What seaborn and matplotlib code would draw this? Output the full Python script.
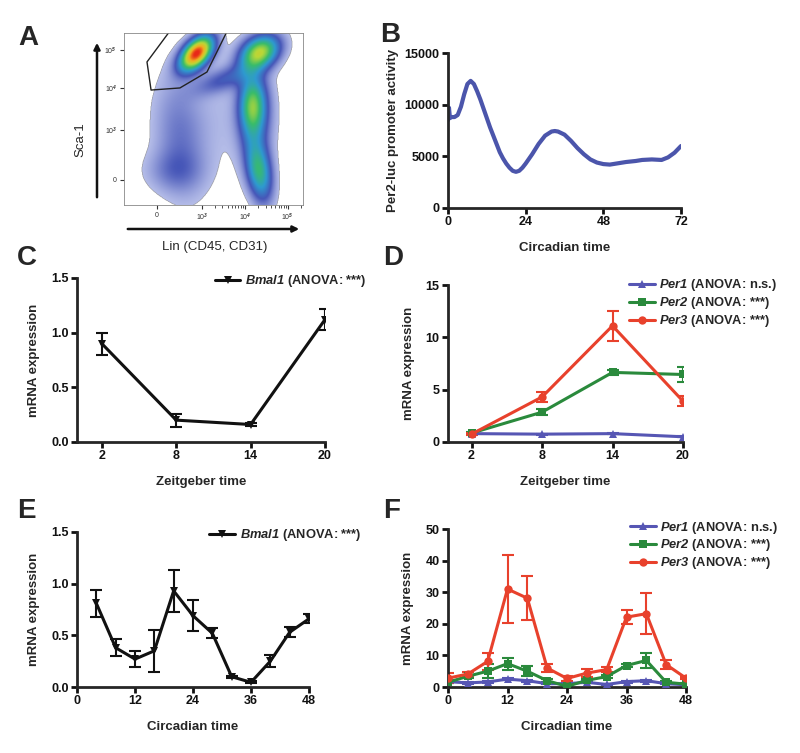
import matplotlib
matplotlib.use("Agg")
import matplotlib.pyplot as plt
from matplotlib.colors import LinearSegmentedColormap
from matplotlib.patches import FancyArrowPatch
import seaborn as sns
import pandas as pd
import numpy as np

# ---------------- data ----------------
# A: flow cytometry populations (centre in display units, spread, tilt, weight)
flow_x = [0.88, 2.29, 2.13, 2.27, 0.50, 0.35, 1.50, 1.30, 2.20]
flow_y = [3.02, 3.05, 1.75, 0.20, 1.00, 0.20, 2.40, 1.50, 1.50]
flow_sx = [0.25, 0.30, 0.20, 0.20, 0.40, 0.45, 0.45, 0.75, 0.30]
flow_sy = [0.28, 0.28, 0.50, 0.50, 1.00, 0.35, 0.25, 1.00, 0.90]
flow_rho = [0.50, 0.30, 0.00, -0.30, -0.20, 0.00, 0.60, 0.00, 0.00]
flow_w = [1.00, 0.65, 0.50, 0.45, 0.13, 0.10, 0.18, 0.04, 0.12]
gate_x = [0.29, -0.22, -0.13, 0.51, 1.11, 1.56]
gate_y = [3.55, 2.81, 2.14, 2.19, 2.57, 3.55]
flow_ticks_x = [0, 1.0, 1.96, 2.9]
flow_ticks_y = [0, 1.19, 2.19, 3.1]
flow_ticklabels = ["0", "10$^3$", "10$^4$", "10$^5$"]

# B: Per2-luc bioluminescence
ct_b = [0, 0.3, 0.6, 1, 2, 3, 4, 5, 6, 7, 8, 9, 10, 11, 12, 13, 14, 15, 16, 17, 18,
        19, 20, 21, 22, 23, 24, 26, 28, 30, 32, 33, 34, 36, 38, 40, 42, 44, 46,
        48, 50, 52, 55, 58, 60, 63, 66, 68, 70, 72]
per2luc = [8500, 9700, 8700, 8800, 8800, 9000, 9800, 11000, 12000, 12300, 12000,
           11300, 10500, 9600, 8700, 7800, 7000, 6200, 5400, 4800, 4300, 3900,
           3600, 3500, 3600, 3900, 4300, 5200, 6200, 7000, 7400, 7450, 7400, 7100,
           6500, 5800, 5200, 4700, 4400, 4250, 4200, 4300, 4450, 4550, 4650, 4700,
           4650, 4900, 5350, 6000]

# C: Bmal1, Zeitgeber time
zt = [2, 8, 14, 20]
bmal1_zt = [0.90, 0.20, 0.16, 1.12]
bmal1_zt_err = [0.10, 0.06, 0.01, 0.10]

# D: Per genes, Zeitgeber time
per1_zt = [0.80, 0.75, 0.80, 0.50]
per1_zt_err = [0.05, 0.05, 0.05, 0.05]
per2_zt = [0.85, 2.85, 6.65, 6.45]
per2_zt_err = [0.10, 0.30, 0.25, 0.75]
per3_zt = [0.75, 4.30, 11.10, 3.90]
per3_zt_err = [0.10, 0.45, 1.45, 0.45]

# E: Bmal1, circadian time
ct = [4, 8, 12, 16, 20, 24, 28, 32, 36, 40, 44, 48]
bmal1_ct = [0.81, 0.38, 0.27, 0.35, 0.93, 0.69, 0.52, 0.10, 0.045, 0.25, 0.53, 0.66]
bmal1_ct_err = [0.13, 0.08, 0.08, 0.20, 0.20, 0.15, 0.05, 0.01, 0.01, 0.06, 0.05, 0.045]

# F: Per genes, circadian time
ct_f = [0, 4, 8, 12, 16, 20, 24, 28, 32, 36, 40, 44, 48]
per1_ct = [1.7, 1.3, 1.6, 2.5, 2.0, 1.05, 1.05, 1.5, 0.8, 1.7, 2.0, 1.05, 0.7]
per1_ct_err = [0.4, 0.3, 0.3, 0.4, 0.3, 0.2, 0.2, 0.3, 0.2, 0.3, 0.3, 0.2, 0.2]
per2_ct = [1.5, 3.4, 5.0, 7.4, 5.0, 2.0, 0.2, 2.1, 3.3, 6.8, 8.4, 1.5, 0.9]
per2_ct_err = [0.3, 0.4, 2.3, 1.9, 1.6, 0.5, 0.2, 0.4, 0.5, 0.5, 2.3, 0.3, 0.3]
per3_ct = [2.8, 4.1, 8.1, 31.0, 28.1, 6.0, 2.7, 4.4, 5.5, 22.1, 23.2, 7.1, 2.8]
per3_ct_err = [1.5, 0.5, 2.7, 10.8, 7.0, 1.3, 0.7, 1.2, 0.8, 2.2, 6.5, 1.5, 0.4]

BLUE = "#5656b4"
GREEN = "#2a8a3c"
RED = "#e8412c"
LINE_B = "#4b55ab"

# ---------------- style ----------------
sns.set_style("ticks")
plt.rcParams.update({
    "font.family": ["Liberation Sans", "DejaVu Sans"],
    "font.weight": "bold",
    "axes.labelweight": "bold",
    "axes.linewidth": 2.0,
    "xtick.major.width": 2.0,
    "ytick.major.width": 2.0,
    "xtick.major.size": 4,
    "ytick.major.size": 4,
    "xtick.labelsize": 9,
    "ytick.labelsize": 9,
    "axes.labelsize": 9.5,
    "mathtext.fontset": "custom",
    # gene names are bold italic; \mathrm is used so digits are slanted too
    "mathtext.rm": "Liberation Sans:italic:bold",
    "mathtext.it": "Liberation Sans:italic:bold",
})

W, H = 800, 753
fig = plt.figure(figsize=(8.0, 7.53), dpi=100)


def px_axes(x0, y0, x1, y1):
    return fig.add_axes([x0 / W, 1 - y1 / H, (x1 - x0) / W, (y1 - y0) / H])


def style_axes(ax):
    sns.despine(ax=ax)
    ax.tick_params(axis="both", direction="out", colors="#111111", pad=2)
    for lab in ax.get_xticklabels() + ax.get_yticklabels():
        lab.set_fontweight("bold")


def err_line(ax, x, y, err, color, marker, label, ms=6):
    df = pd.DataFrame({"x": x, "y": y})
    ax.errorbar(x, y, yerr=err, fmt="none", ecolor=color, elinewidth=1.5,
                capsize=4, capthick=1.5, zorder=2)
    sns.lineplot(data=df, x="x", y="y", ax=ax, color=color, marker=marker,
                 markersize=ms, markeredgewidth=0, linewidth=2.2, label=label,
                 zorder=3)


def add_legend(ax, x, y):
    leg = ax.legend(loc="upper left", bbox_to_anchor=(x, y), frameon=False,
                    fontsize=9.3, handlelength=2.0, handletextpad=0.35,
                    labelspacing=0.15, borderpad=0, borderaxespad=0)
    for t in leg.get_texts():
        t.set_fontweight("bold")


# ---------------- A: flow cytometry ----------------
axA = px_axes(124, 33, 303, 205)
gx = np.linspace(-0.73, 3.24, 360)
gy = np.linspace(-0.6, 3.5, 360)
XX, YY = np.meshgrid(gx, gy)
dens = np.zeros_like(XX)
for mx, my, sx, sy, r, w in zip(flow_x, flow_y, flow_sx, flow_sy, flow_rho, flow_w):
    dx = (XX - mx) / sx
    dy = (YY - my) / sy
    q = (dx ** 2 - 2 * r * dx * dy + dy ** 2) / (1 - r ** 2)
    dens += w * np.exp(-0.5 * q)
dens = np.ma.masked_less(dens, 0.04)
flow_cmap = LinearSegmentedColormap.from_list(
    "flow", ["#b4bce8", "#4656b8", "#2e9ad0", "#38bc6a", "#b8d838",
             "#f0b020", "#e82818"])
axA.imshow(dens, origin="lower", extent=(gx[0], gx[-1], gy[0], gy[-1]),
           cmap=flow_cmap, vmin=0.04, vmax=1.0, aspect="auto",
           interpolation="bilinear")
axA.plot(gate_x, gate_y, color="#222222", linewidth=1.0)
axA.set_xlim(gx[0], gx[-1])
axA.set_ylim(gy[0], gy[-1])
axA.set_xticks(flow_ticks_x)
axA.set_xticklabels(flow_ticklabels)
axA.set_yticks(flow_ticks_y)
axA.set_yticklabels(flow_ticklabels)
minor_x = [p + np.log10(k) * 0.95 for p in flow_ticks_x[1:] for k in range(2, 10)]
axA.set_xticks([m for m in minor_x if m < gx[-1]], minor=True)
axA.tick_params(axis="both", which="major", labelsize=5, length=3, width=0.8,
                colors="#333333", pad=2)
axA.tick_params(axis="both", which="minor", length=2, width=0.6, colors="#333333")
for sp in axA.spines.values():
    sp.set_linewidth(0.6)
    sp.set_color("#888888")
for lab in axA.get_xticklabels() + axA.get_yticklabels():
    lab.set_fontweight("normal")
fig.add_artist(FancyArrowPatch(
    (97 / W, 1 - 200 / H), (97 / W, 1 - 40 / H), transform=fig.transFigure,
    arrowstyle="-|>", mutation_scale=9, linewidth=1.8, color="#111111"))
fig.add_artist(FancyArrowPatch(
    (125 / W, 1 - 229 / H), (302 / W, 1 - 229 / H), transform=fig.transFigure,
    arrowstyle="-|>", mutation_scale=9, linewidth=1.8, color="#111111"))
fig.text(80 / W, 1 - 140 / H, "Sca-1", rotation=90, ha="center", va="center",
         fontsize=9.5, fontweight="normal")
fig.text(215 / W, 1 - 247 / H, "Lin (CD45, CD31)", ha="center", va="center",
         fontsize=9.5, fontweight="normal")

# ---------------- B: Per2-luc ----------------
axB = px_axes(448, 53, 681, 208)
sns.lineplot(x=ct_b, y=per2luc, ax=axB, color=LINE_B, linewidth=3.0)
axB.set_xlim(0, 72)
axB.set_ylim(0, 15000)
axB.set_xticks([0, 24, 48, 72])
axB.set_yticks([0, 5000, 10000, 15000])
axB.set_xlabel("Circadian time", labelpad=10)
axB.set_ylabel("Per2-luc promoter activity", labelpad=4)
style_axes(axB)

# ---------------- C: Bmal1 ZT ----------------
axC = px_axes(77, 278, 325, 442)
err_line(axC, zt, bmal1_zt, bmal1_zt_err, "#111111", "v", r"$\mathrm{Bmal1}$ (ANOVA: ***)")
axC.set_xlim(0, 20)
axC.set_ylim(0, 1.5)
axC.set_xticks(zt)
axC.set_yticks([0, 0.5, 1.0, 1.5])
axC.set_yticklabels(["0.0", "0.5", "1.0", "1.5"])
axC.set_xlabel("Zeitgeber time", labelpad=10)
axC.set_ylabel("mRNA expression", labelpad=8)
add_legend(axC, 0.555, 1.03)
style_axes(axC)

# ---------------- D: Per ZT ----------------
axD = px_axes(448, 285, 683, 442)
err_line(axD, zt, per1_zt, per1_zt_err, BLUE, "^", r"$\mathrm{Per1}$ (ANOVA: n.s.)")
err_line(axD, zt, per2_zt, per2_zt_err, GREEN, "s", r"$\mathrm{Per2}$ (ANOVA: ***)")
err_line(axD, zt, per3_zt, per3_zt_err, RED, "o", r"$\mathrm{Per3}$ (ANOVA: ***)")
axD.set_xlim(0, 20)
axD.set_ylim(0, 15)
axD.set_xticks(zt)
axD.set_yticks([0, 5, 10, 15])
axD.set_xlabel("Zeitgeber time", labelpad=10)
axD.set_ylabel("mRNA expression", labelpad=8)
add_legend(axD, 0.77, 1.05)
style_axes(axD)

# ---------------- E: Bmal1 CT ----------------
axE = px_axes(77, 532, 309, 687)
err_line(axE, ct, bmal1_ct, bmal1_ct_err, "#111111", "v", r"$\mathrm{Bmal1}$ (ANOVA: ***)")
axE.set_xlim(0, 48)
axE.set_ylim(0, 1.5)
axE.set_xticks([0, 12, 24, 36, 48])
axE.set_yticks([0, 0.5, 1.0, 1.5])
axE.set_yticklabels(["0.0", "0.5", "1.0", "1.5"])
axE.set_xlabel("Circadian time", labelpad=10)
axE.set_ylabel("mRNA expression", labelpad=8)
add_legend(axE, 0.57, 1.03)
style_axes(axE)

# ---------------- F: Per CT ----------------
axF = px_axes(448, 529, 686, 687)
err_line(axF, ct_f, per1_ct, per1_ct_err, BLUE, "^", r"$\mathrm{Per1}$ (ANOVA: n.s.)")
err_line(axF, ct_f, per2_ct, per2_ct_err, GREEN, "s", r"$\mathrm{Per2}$ (ANOVA: ***)")
err_line(axF, ct_f, per3_ct, per3_ct_err, RED, "o", r"$\mathrm{Per3}$ (ANOVA: ***)")
axF.set_xlim(0, 48)
axF.set_ylim(0, 50)
axF.set_xticks([0, 12, 24, 36, 48])
axF.set_yticks([0, 10, 20, 30, 40, 50])
axF.set_xlabel("Circadian time", labelpad=10)
axF.set_ylabel("mRNA expression", labelpad=8)
add_legend(axF, 0.765, 1.06)
style_axes(axF)

# panel letters
for letter, x, y in [("A", 18, 25), ("B", 380, 22), ("C", 17, 245),
                     ("D", 383, 245), ("E", 17, 498), ("F", 383, 498)]:
    fig.text(x / W, 1 - y / H, letter, ha="left", va="top", fontsize=20,
             fontweight="bold")

fig.savefig("out.png", dpi=100, facecolor="white")
